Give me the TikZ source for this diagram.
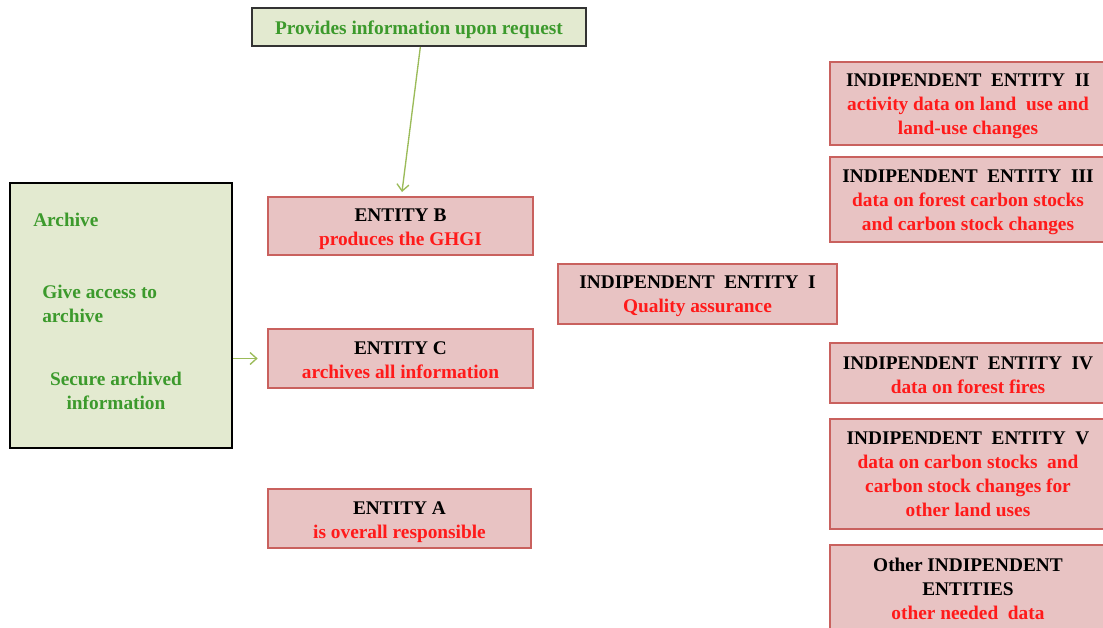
\documentclass[tikz,border=0pt]{standalone}
\usepackage{fontspec}
\setmainfont{Liberation Serif}
\usetikzlibrary{arrows.meta,calc}
\definecolor{pinkfill}{HTML}{E8C3C3}
\definecolor{pinkdraw}{HTML}{C9615E}
\definecolor{greenfill}{HTML}{E3EAD0}
\definecolor{greentext}{HTML}{3C9A2C}
\definecolor{linegreen}{HTML}{9BBB59}
\definecolor{redtext}{HTML}{FF1A1A}
\tikzset{
  ent/.style={draw=pinkdraw, line width=1.5pt, fill=pinkfill, inner sep=0pt},
  etxt/.style={inner sep=0pt, align=center, font=\fontsize{14.5}{18}\selectfont\bfseries},
  gbox/.style={fill=greenfill, inner sep=0pt},
  gtxt/.style={text=greentext, inner sep=0pt, font=\fontsize{14.5}{18}\selectfont\bfseries},
  conn/.style={draw=linegreen, line width=1pt, -{Straight Barb[length=5pt,width=9pt]}},
}
\newcommand{\rt}[1]{\textcolor{redtext}{#1}}
\begin{document}
\begin{tikzpicture}[x=0.75pt,y=-0.75pt]
\useasboundingbox (0,0) rectangle (1103,628);
\clip (0,0) rectangle (1103,628);
\fill[white] (0,0) rectangle (1103,628);
% top box
\node[gbox, draw=black!80, line width=1.5pt, minimum width=334*0.75pt, minimum height=38*0.75pt] (prov) at (419,27) {};
\node[gtxt] (provt) at (419,29.5) {Provides information upon request};
% archive box
\node[gbox, draw=black, line width=2.2pt, minimum width=222*0.75pt, minimum height=265*0.75pt] (arch) at (121,315.5) {};
\node[gtxt, anchor=west] (a1) at (33,220) {Archive};
\node[gtxt, anchor=west, align=left] (a2) at (42,303.5) {Give access to\\archive};
\node[gtxt, align=center] (a3) at (116,390.5) {Secure archived\\information};
% entities
\node[ent, minimum width=265*0.75pt, minimum height=58*0.75pt] (entB) at (400.5,226) {};
\node[etxt] (entBt) at (400.5,229) {ENTITY B\\\rt{produces the GHGI}};
\node[ent, minimum width=265*0.75pt, minimum height=59*0.75pt] (entC) at (400.5,358.5) {};
\node[etxt] (entCt) at (400.5,360.5) {ENTITY C\\\rt{archives all information}};
\node[ent, minimum width=263*0.75pt, minimum height=59*0.75pt] (entA) at (399.5,518.5) {};
\node[etxt] (entAt) at (399.5,522.5) {ENTITY A\\\rt{is overall responsible}};
\node[ent, minimum width=279*0.75pt, minimum height=60*0.75pt] (ind1) at (697.5,294) {};
\node[etxt] (ind1t) at (697.5,296.5) {INDIPENDENT\ \ ENTITY\ \ I\\\rt{Quality assurance}};
\node[ent, minimum width=276*0.75pt, minimum height=83*0.75pt] (ind2) at (968,103.5) {};
\node[etxt] (ind2t) at (968,106.5) {INDIPENDENT\ \ ENTITY\ \ II\\\rt{activity data on land\ \ use and}\\\rt{land-use changes}};
\node[ent, minimum width=276*0.75pt, minimum height=85*0.75pt] (ind3) at (968,199.5) {};
\node[etxt] (ind3t) at (968,202) {INDIPENDENT\ \ ENTITY\ \ III\\\rt{data on forest carbon stocks}\\\rt{and carbon stock changes}};
\node[ent, minimum width=276*0.75pt, minimum height=60*0.75pt] (ind4) at (968,373) {};
\node[etxt] (ind4t) at (968,375) {INDIPENDENT\ \ ENTITY\ \ IV\\\rt{data on forest fires}};
\node[ent, minimum width=276*0.75pt, minimum height=110*0.75pt] (ind5) at (968,474) {};
\node[etxt] (ind5t) at (968,474.5) {INDIPENDENT\ \ ENTITY\ \ V\\\rt{data on carbon stocks\ \ and}\\\rt{carbon stock changes for}\\\rt{other land uses}};
\node[ent, minimum width=276*0.75pt, minimum height=86*0.75pt] (ind6) at (968,588) {};
\node[etxt] (ind6t) at (968,589) {Other INDIPENDENT\\ENTITIES\\\rt{other needed\ \ data}};
% connectors
\draw[conn] ([xshift=1pt]prov.south) -- ([xshift=1.1pt,yshift=3pt]entB.north);
\draw[conn] (arch.east |- entC.west) -- ([xshift=-7pt]entC.west);
\end{tikzpicture}
\end{document}
